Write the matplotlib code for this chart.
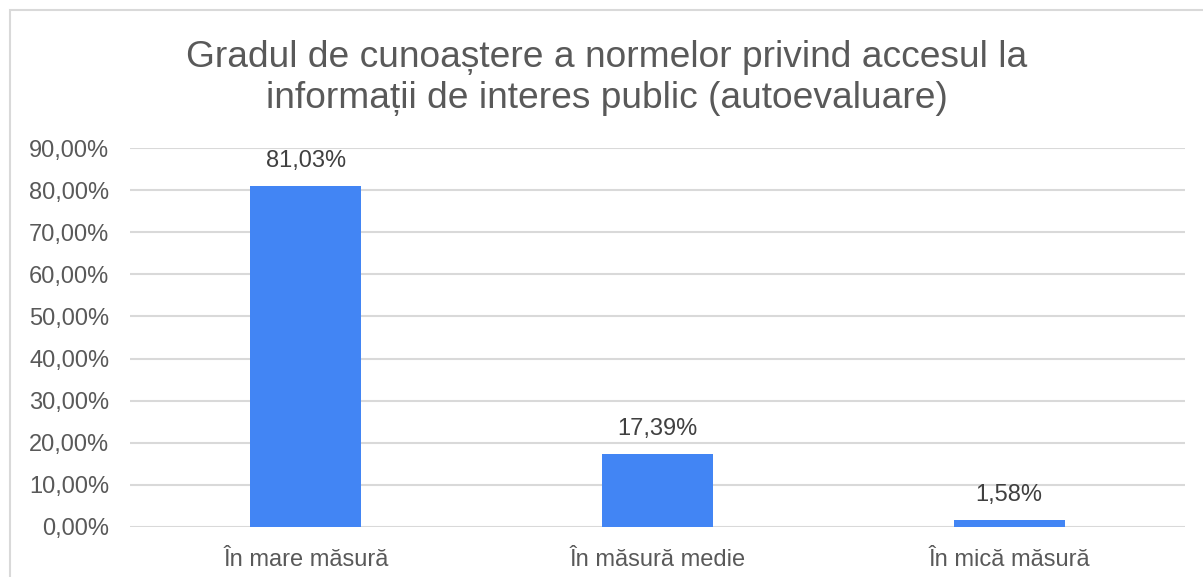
import matplotlib.pyplot as plt
from matplotlib.patches import Rectangle
from matplotlib.ticker import FuncFormatter

categorii = ['În mare măsură', 'În măsură medie', 'În mică măsură']
valori = [81.03, 17.39, 1.58]
titlu = 'Gradul de cunoaștere a normelor privind accesul la\ninformații de interes public (autoevaluare)'

gri = '#595959'
albastru = '#4285F4'

plt.rcParams['font.family'] = ['Liberation Sans', 'DejaVu Sans']

W, H = 1203, 577
fig = plt.figure(figsize=(W / 100, H / 100), dpi=100)
ax = fig.add_axes([130 / W, 1 - 527 / H, (1185 - 130) / W, (527 - 148) / H])

# chenar (doar stanga si sus se vad in imagine)
fig.patches.append(Rectangle((10 / W, -0.1), 1.2, 1 - 10 / H + 0.1, transform=fig.transFigure,
                             fill=False, edgecolor='#d9d9d9', linewidth=1.5))

x = range(len(categorii))
bare = ax.bar(x, valori, width=0.315, color=albastru, zorder=3)
for b, v in zip(bare, valori):
    ax.annotate(f'{v:.2f}%'.replace('.', ','), (b.get_x() + b.get_width() / 2, v),
                xytext=(0, 10), textcoords='offset points', ha='center', va='bottom',
                fontsize=17, color='#404040')

ax.set_xlim(-0.5, 2.5)
ax.set_ylim(0, 90)
ax.set_yticks(range(0, 91, 10))
ax.yaxis.set_major_formatter(FuncFormatter(lambda v, p: f'{v:.2f}%'.replace('.', ',')))
ax.set_xticks(list(x))
ax.set_xticklabels(categorii)
ax.tick_params(axis='both', length=0, labelsize=17, labelcolor=gri)
ax.tick_params(axis='y', pad=15)
ax.tick_params(axis='x', pad=16)
ax.grid(axis='y', color='#d9d9d9', linewidth=1.5, zorder=0)
for s in ax.spines.values():
    s.set_visible(False)

fig.text(607 / W, 1 - 78 / H, titlu, ha='center', va='center',
         fontsize=26.7, color=gri, linespacing=1.2)

fig.savefig('out.png', dpi=100)
